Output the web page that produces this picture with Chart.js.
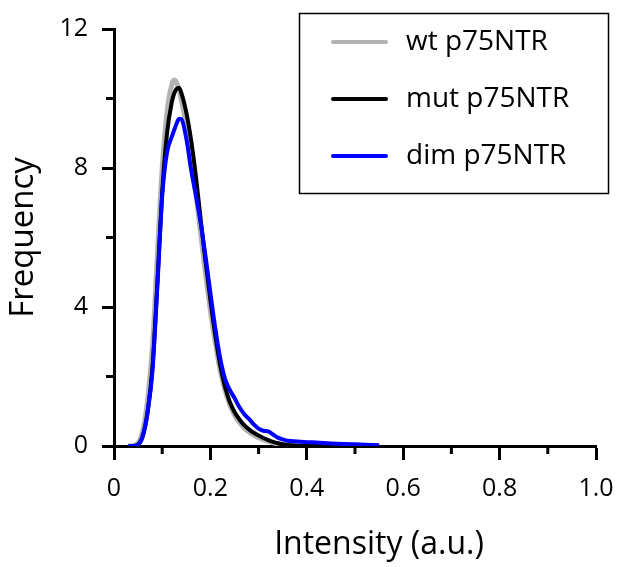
<!DOCTYPE html>
<html>
<head>
<meta charset="utf-8">
<script src="https://cdn.jsdelivr.net/npm/chart.js@4/dist/chart.umd.min.js"></script>
<style>
  body { margin: 0; background: #fff; }
  canvas { display: block; }
</style>
</head>
<body>
<canvas id="plot" width="630" height="567"></canvas>
<script>
'use strict';

//===== data =====//
var intensity = [0.03, 0.04, 0.05, 0.06, 0.07, 0.08, 0.09, 0.10, 0.11, 0.12, 0.125, 0.13, 0.135, 0.14,
  0.15, 0.16, 0.17, 0.18, 0.19, 0.20, 0.21, 0.22, 0.23, 0.24, 0.25, 0.26, 0.27, 0.28, 0.29, 0.30,
  0.31, 0.32, 0.33, 0.34, 0.35, 0.36, 0.38, 0.40, 0.42, 0.45, 0.50, 0.55];

var wtFreq = [0, 0.01, 0.08, 0.45, 1.35, 2.9, 5.5, 8.0, 9.6, 10.4, 10.53, 10.45, 10.25, 9.95,
  9.2, 8.3, 7.25, 6.1, 4.95, 3.9, 3.0, 2.2, 1.62, 1.2, 0.9, 0.68, 0.52, 0.4, 0.31, 0.24,
  0.18, 0.13, 0.09, 0.06, 0.04, 0.03, 0.01, 0, 0, 0, 0, 0];

var mutFreq = [0, 0, 0.04, 0.3, 1.0, 2.3, 4.7, 7.3, 9.0, 9.9, 10.15, 10.28, 10.3, 10.15,
  9.6, 8.8, 7.75, 6.5, 5.3, 4.2, 3.2, 2.35, 1.72, 1.28, 0.98, 0.77, 0.6, 0.48, 0.38, 0.3,
  0.23, 0.17, 0.12, 0.08, 0.05, 0.03, 0.01, 0, 0, 0, 0, 0];

var dimFreq = [0, 0, 0.04, 0.3, 1.0, 2.2, 4.6, 7.2, 8.45, 8.9, 9.1, 9.28, 9.42, 9.4,
  8.85, 7.95, 7.2, 6.4, 5.45, 4.4, 3.4, 2.55, 1.95, 1.62, 1.38, 1.12, 0.92, 0.78, 0.62, 0.5,
  0.44, 0.42, 0.33, 0.24, 0.19, 0.15, 0.13, 0.11, 0.1, 0.07, 0.05, 0.02];

var seriesNames = ['wt p75NTR', 'mut p75NTR', 'dim p75NTR'];
var seriesColors = ['#b3b3b3', '#000000', '#0000ff'];

var xMinorTicks = [0.1, 0.3, 0.5, 0.7, 0.9];
var yMinorTicks = [2, 6, 10];

var FONT = "'Open Sans', 'DejaVu Sans', sans-serif";

function toPoints(ys) {
  return ys.map(function (v, i) { return { x: intensity[i], y: v }; });
}

// minor ticks, shifted x title and the boxed legend
var extrasPlugin = {
  id: 'extras',
  afterDraw: function (chart) {
    var ctx = chart.ctx;
    var xs = chart.scales.x;
    var ys = chart.scales.y;
    var area = chart.chartArea;
    ctx.save();
    ctx.strokeStyle = '#000';
    ctx.lineWidth = 3;
    ctx.beginPath();
    xMinorTicks.forEach(function (v) {
      var px = xs.getPixelForValue(v);
      ctx.moveTo(px, area.bottom);
      ctx.lineTo(px, area.bottom + 8);
    });
    yMinorTicks.forEach(function (v) {
      var py = ys.getPixelForValue(v);
      ctx.moveTo(area.left, py);
      ctx.lineTo(area.left - 8, py);
    });
    ctx.stroke();

    // x axis title (sits right of centre in the original)
    ctx.fillStyle = '#000';
    ctx.font = '32px ' + FONT;
    ctx.textAlign = 'center';
    ctx.textBaseline = 'middle';
    ctx.fillText('Intensity (a.u.)', (area.left + area.right) / 2 + 24, chart.height - 22);

    // legend
    var boxL = area.right - 297, boxT = 13, boxW = 309, boxH = 180;
    ctx.lineWidth = 1.5;
    ctx.strokeRect(boxL + 0.5, boxT + 0.5, boxW, boxH);
    ctx.font = '28px ' + FONT;
    ctx.textAlign = 'left';
    chart.data.datasets.forEach(function (ds, i) {
      var rowY = boxT + 29 + i * 57;
      ctx.strokeStyle = ds.borderColor;
      ctx.lineWidth = 4;
      ctx.lineCap = 'round';
      ctx.beginPath();
      ctx.moveTo(boxL + 34, rowY);
      ctx.lineTo(boxL + 87, rowY);
      ctx.stroke();
      ctx.fillText(ds.label, boxL + 107, rowY);
    });
    ctx.restore();
  }
};

var chart = new Chart(document.getElementById('plot'), {
  type: 'line',
  data: {
    datasets: [
      { label: seriesNames[0], data: toPoints(wtFreq), borderColor: seriesColors[0], borderWidth: 5, order: 3 },
      { label: seriesNames[1], data: toPoints(mutFreq), borderColor: seriesColors[1], borderWidth: 4, order: 2 },
      { label: seriesNames[2], data: toPoints(dimFreq), borderColor: seriesColors[2], borderWidth: 4, order: 1 }
    ]
  },
  options: {
    responsive: false,
    animation: false,
    layout: { padding: { top: 20, right: 34, left: 0, bottom: 0 } },
    elements: {
      point: { radius: 0 },
      line: { cubicInterpolationMode: 'monotone', fill: false }
    },
    plugins: {
      legend: { display: false },
      tooltip: { enabled: false }
    },
    scales: {
      x: {
        type: 'linear',
        min: 0,
        max: 1,
        afterFit: function (scale) { scale.height = 121; },
        border: { color: '#000', width: 3 },
        grid: { drawOnChartArea: false, tickLength: 14, tickWidth: 3, tickColor: '#000' },
        ticks: {
          stepSize: 0.2,
          color: '#000',
          padding: 14,
          font: { family: FONT, size: 25 },
          callback: function (v) { return v === 0 ? '0' : v.toFixed(1); }
        }
      },
      y: {
        min: 0,
        max: 12,
        afterFit: function (scale) { scale.width = 114; },
        border: { color: '#000', width: 3 },
        grid: { drawOnChartArea: false, tickLength: 12, tickWidth: 3, tickColor: '#000' },
        ticks: {
          stepSize: 4,
          color: '#000',
          padding: 14,
          font: { family: FONT, size: 25 }
        },
        title: {
          display: true,
          text: 'Frequency',
          color: '#000',
          font: { family: FONT, size: 33 },
          padding: { top: 4, bottom: 0 }
        }
      }
    }
  },
  plugins: [extrasPlugin]
});
</script>
</body>
</html>
